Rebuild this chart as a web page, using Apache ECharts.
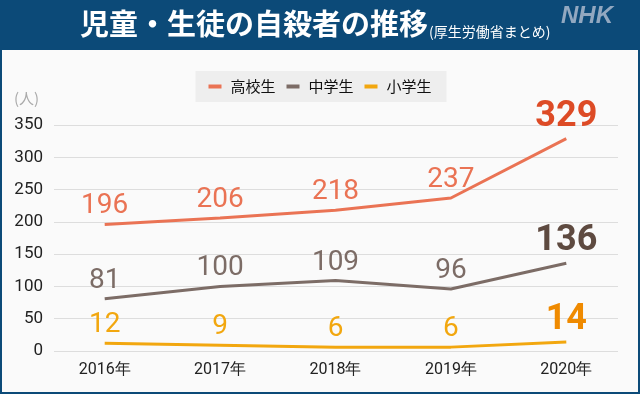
<!DOCTYPE html>
<html><head><meta charset="utf-8">
<script src="https://cdn.jsdelivr.net/npm/echarts@6/dist/echarts.min.js"></script>
<style>html,body{margin:0;padding:0;background:#fafafa}#c{width:640px;height:394px}</style>
</head><body><div id="c"></div>
<script>
const categories = ['2016年','2017年','2018年','2019年','2020年'];
const highSchool = [196, 206, 218, 237, 329];
const juniorHigh = [81, 100, 109, 96, 136];
const elementary = [12, 9, 6, 6, 14];
const seriesNames = ['高校生','中学生','小学生'];
const yTicks = {min: 0, max: 350, interval: 50};

const lineColors = ['#ea7354', '#7c6c66', '#f2a70f'];
const lastColors = ['#dd4b26', '#5e4a40', '#ef8a00'];
const F = '"Noto Sans CJK JP", "Noto Sans", sans-serif';
const N = 'Roboto, "Noto Sans", sans-serif';

function build(vals, i) {
  return vals.map((v, k) => {
    const last = k === vals.length - 1;
    return {
      value: v,
      label: last ? {fontSize: 36, fontWeight: 'bold', color: lastColors[i], distance: 4, offset: [0, i === 0 ? 9 : 12]}
                  : {fontSize: 28, fontWeight: 'normal', color: lineColors[i], distance: 4}
    };
  });
}

const chart = echarts.init(document.getElementById('c'), null, {renderer: 'canvas'});
chart.setOption({
  backgroundColor: '#fafafa',
  animation: false,
  graphic: [
    {type: 'rect', shape: {x: 0, y: 0, width: 640, height: 50}, style: {fill: '#0c4a78'}, z: 0},
    {type: 'rect', shape: {x: 1, y: 1, width: 638, height: 392}, style: {fill: 'none', stroke: '#0c4a78', lineWidth: 2}, z: 0},
    {type: 'text', x: 80, y: 9, style: {text: '児童・生徒の自殺者の推移', fill: '#fff', font: 'bold 29px ' + F}},
    {type: 'text', x: 429, y: 25, style: {text: '(厚生労働省まとめ)', fill: '#fff', font: '14px ' + F}},
    {type: 'text', x: 561, y: 4, style: {text: 'NHK', fill: '#92a8c0', font: 'italic bold 24px Arial, "Liberation Sans", sans-serif'}},
    {type: 'text', x: 14, y: 91, style: {text: '(人)', fill: '#aaa', font: '15px ' + F}}
  ],
  legend: {
    top: 71, left: 'center',
    data: seriesNames,
    backgroundColor: '#eeeeee',
    padding: [8, 15, 8, 13],
    itemGap: 11,
    itemWidth: 13, itemHeight: 4,
    icon: 'rect',
    textStyle: {fontSize: 15, color: '#111', fontFamily: F, padding: [0, 0, 0, 4]}
  },
  grid: [
    {left: 47, right: 16, top: 125, bottom: 43},
    {left: 54, right: 22, top: 125, bottom: 43}
  ],
  xAxis: [
    {
      type: 'category', data: categories, boundaryGap: true, gridIndex: 0,
      axisLine: {show: false}, axisTick: {show: false},
      axisLabel: {fontSize: 16, color: '#222', margin: 11, fontFamily: N}
    },
    {
      type: 'category', data: categories, gridIndex: 1, show: false
    }
  ],
  yAxis: [
    {
      type: 'value', min: yTicks.min, max: yTicks.max, interval: yTicks.interval, gridIndex: 0,
      show: false, splitLine: {show: false}
    },
    {
      type: 'value', min: yTicks.min, max: yTicks.max, interval: yTicks.interval, gridIndex: 1,
      axisLine: {show: false}, axisTick: {show: false},
      axisLabel: {fontSize: 17, color: '#222', margin: 11, fontFamily: N},
      splitLine: {lineStyle: {color: '#dddddd', width: 1}}
    }
  ],
  series: [highSchool, juniorHigh, elementary].map((vals, i) => ({
    name: seriesNames[i], type: 'line', data: build(vals, i),
    xAxisIndex: 0, yAxisIndex: 0,
    color: lineColors[i],
    symbol: 'circle', symbolSize: 0, showSymbol: true,
    lineStyle: {width: 3, color: lineColors[i]},
    label: {show: true, position: 'top', fontFamily: N},
    labelLayout: {hideOverlap: false},
    z: 3
  }))
});
</script></body></html>
